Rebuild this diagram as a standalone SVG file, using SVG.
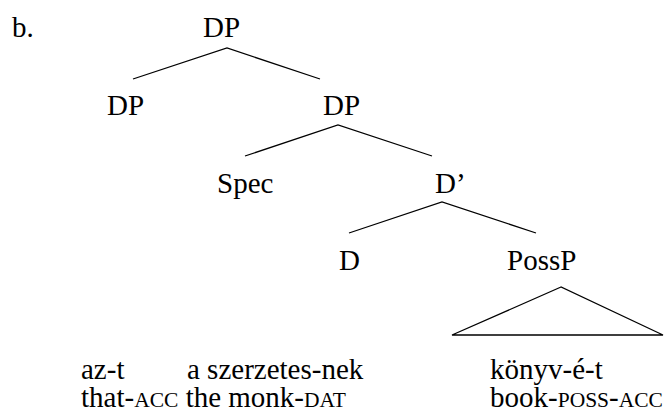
<svg xmlns="http://www.w3.org/2000/svg" width="664" height="412" viewBox="0 0 664 412">
<style>
.t{font-family:'Liberation Serif','DejaVu Serif',serif;font-size:29px;fill:#000}
.sc{font-size:21.5px}
.edge{stroke:#000;stroke-width:1.3;fill:none}
</style>
<rect width="664" height="412" fill="#fff"/>
<text class="t" x="12" y="37">b.</text>
<g id="n-dp-top"><text class="t" x="203" y="37">DP</text></g>
<g id="n-dp-left"><text class="t" x="107" y="115">DP</text></g>
<g id="n-dp-right"><text class="t" x="323" y="115">DP</text></g>
<g id="n-spec"><text class="t" x="217" y="193">Spec</text></g>
<g id="n-dbar"><text class="t" x="435" y="193">D’</text></g>
<g id="n-d"><text class="t" x="339" y="270">D</text></g>
<g id="n-possp"><text class="t" x="507" y="270">PossP</text></g>
<g id="connectors">
<polyline class="edge" points="133,79 227,48 320,79"/>
<polyline class="edge" points="245,156 338,125 432,156"/>
<polyline class="edge" points="349,233 442,202 536,233"/>
<polygon class="edge" points="561,287 452,335 663,335"/>
</g>
<g id="words">
<text class="t" x="81" y="379">az-t</text>
<text class="t" x="187" y="379">a szerzetes-nek</text>
<text class="t" x="490" y="379">könyv-é-t</text>
<text class="t" x="81" y="407">that-<tspan class="sc">ACC</tspan> the monk-<tspan class="sc">DAT</tspan></text>
<text class="t" x="490" y="407">book-<tspan class="sc">POSS</tspan>-<tspan class="sc">ACC</tspan></text>
</g>
</svg>
